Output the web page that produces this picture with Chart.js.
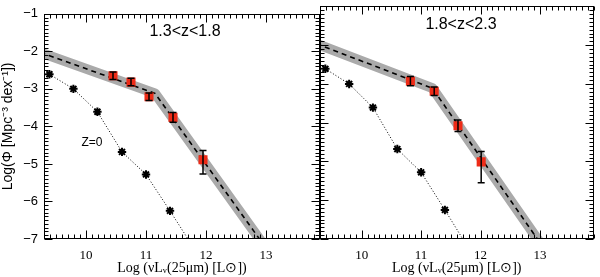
<!DOCTYPE html>
<html><head><meta charset="utf-8">
<script src="https://cdn.jsdelivr.net/npm/chart.js@4/dist/chart.umd.min.js"></script>
<style>
html,body{margin:0;padding:0;background:#fff;}
#wrap{position:relative;width:600px;height:277px;overflow:hidden;background:#fff;}
#c1{position:absolute;left:0;top:0;}
#c2{position:absolute;left:300px;top:0;}
</style></head><body>
<div id="wrap"><canvas id="c1" width="330" height="277"></canvas><canvas id="c2" width="300" height="277"></canvas></div>
<script>
// ---- data ----
const xTicks = [10, 11, 12, 13];
const yTicks = [-7, -6, -5, -4, -3, -2, -1];
const panelLabels = ['1.3<z<1.8', '1.8<z<2.3'];
const localLabel = 'Z=0';

// local (z=0) luminosity function, same in both panels
const localX = [9.39, 9.79, 10.19, 10.6, 11.0, 11.4];
const localY = [-2.61, -3.0, -3.61, -4.68, -5.28, -6.25];
const localLineX = [9.39, 9.79, 10.19, 10.6, 11.0, 11.4, 11.7];
const localLineY = [-2.61, -3.0, -3.61, -4.68, -5.28, -6.25, -7.0];

// panel 1: 1.3<z<1.8
const lf1X = [10.45, 10.75, 11.05, 11.45, 11.95];
const lf1Y = [-2.65, -2.82, -3.21, -3.76, -4.89];
const lf1ErrHi = [0.1, 0.1, 0.1, 0.13, 0.25];
const lf1ErrLo = [0.1, 0.1, 0.1, 0.13, 0.38];
const fit1X = [9.1, 11.15, 13.03];
const fit1Y = [-1.95, -3.12, -7.31];

// panel 2: 1.8<z<2.3
const lf2X = [10.82, 11.22, 11.62, 12.01];
const lf2Y = [-2.93, -3.19, -4.08, -5.01];
const lf2ErrHi = [0.12, 0.11, 0.15, 0.27];
const lf2ErrLo = [0.12, 0.11, 0.15, 0.54];
const fit2X = [9.1, 11.19, 13.1];
const fit2Y = [-1.88, -3.11, -7.32];

const SANS = "'Liberation Sans', Arial, Helvetica, sans-serif";
const SERIF = "'Liberation Serif', 'Times New Roman', serif";
const pts = (xs, ys) => xs.map((x, i) => ({x: x, y: ys[i]}));

// ---- plugins ----
const framePlugin = {
  id: 'frame',
  afterDraw(chart) {
    const ctx = chart.ctx, a = chart.chartArea, x = chart.scales.x, y = chart.scales.y;
    ctx.save();
    ctx.strokeStyle = '#000';
    ctx.lineWidth = 1;
    const L = Math.round(a.left) + 0.5, R = Math.round(a.right) - 0.5;
    const T = Math.round(a.top) + 0.5, B = Math.round(a.bottom) - 0.5;
    ctx.strokeRect(L, T, R - L, B - T);
    ctx.beginPath();
    for (let k = Math.ceil(x.min * 10 - 1e-6); k <= Math.floor(x.max * 10 + 1e-6); k++) {
      const px = Math.round(x.getPixelForValue(k / 10)) + 0.5;
      const len = (k % 10 === 0) ? 8 : 4;
      ctx.moveTo(px, B); ctx.lineTo(px, B - len);
      ctx.moveTo(px, T); ctx.lineTo(px, T + len);
    }
    for (let k = Math.ceil(y.min * 10 - 1e-6); k <= Math.floor(y.max * 10 + 1e-6); k++) {
      const py = Math.round(y.getPixelForValue(k / 10)) + 0.5;
      const len = (k % 10 === 0) ? 8 : 4;
      ctx.moveTo(L, py); ctx.lineTo(L + len, py);
      ctx.moveTo(R, py); ctx.lineTo(R - len, py);
    }
    ctx.stroke();
    ctx.restore();
  }
};

const errPlugin = {
  id: 'errbars',
  afterDatasetsDraw(chart, args, opts) {
    const ctx = chart.ctx, x = chart.scales.x, y = chart.scales.y;
    const ds = chart.data.datasets[opts.datasetIndex];
    ctx.save();
    ctx.strokeStyle = '#000';
    ctx.lineWidth = 1.5;
    ctx.beginPath();
    ds.data.forEach((p, i) => {
      const px = x.getPixelForValue(p.x);
      const yt = y.getPixelForValue(p.y + opts.hi[i]);
      const yb = y.getPixelForValue(p.y - opts.lo[i]);
      ctx.moveTo(px, yt); ctx.lineTo(px, yb);
      ctx.moveTo(px - 3.5, yt); ctx.lineTo(px + 3.5, yt);
      ctx.moveTo(px - 3.5, yb); ctx.lineTo(px + 3.5, yb);
    });
    ctx.stroke();
    ctx.restore();
  }
};

const textPlugin = {
  id: 'labels',
  afterDraw(chart, args, opts) {
    const ctx = chart.ctx, x = chart.scales.x, y = chart.scales.y;
    ctx.save();
    ctx.fillStyle = '#000';
    ctx.textAlign = 'center';
    ctx.textBaseline = 'middle';
    opts.items.forEach(it => {
      ctx.font = it.size + 'px ' + SANS;
      ctx.fillText(it.text, x.getPixelForValue(it.x), y.getPixelForValue(it.y));
    });
    ctx.restore();
  }
};

function makePanel(id, cfg) {
  return new Chart(document.getElementById(id), {
    type: 'scatter',
    data: { datasets: [
      { label: 'LF', data: pts(cfg.lfX, cfg.lfY), pointStyle: 'rect', pointRadius: 6.4,
        backgroundColor: '#ee2b17', borderColor: '#ee2b17', borderWidth: 0, showLine: false, order: 0 },
      { label: 'z0', data: pts(localX, localY), pointStyle: 'star', pointRadius: 4.2,
        borderColor: '#000', backgroundColor: '#000', borderWidth: 2, showLine: false, order: 1 },
      { label: 'z0line', data: pts(localLineX, localLineY), showLine: true, pointRadius: 0,
        borderColor: '#000', borderWidth: 1, borderDash: [1, 2], order: 2, clip: 0 },
      { label: 'fit', data: pts(cfg.fitX, cfg.fitY), showLine: true, pointRadius: 0,
        borderColor: '#000', borderWidth: 1.6, borderDash: [5, 4], order: 3, clip: 0 },
      { label: 'band', data: pts(cfg.fitX, cfg.fitY), showLine: true, pointRadius: 0,
        borderColor: '#aaaaaa', borderWidth: 10, borderJoinStyle: 'round', order: 4, clip: 0 }
    ]},
    options: {
      animation: false, responsive: false, events: [],
      layout: { padding: { left: 0, right: cfg.padRight, top: 3, bottom: 0 } },
      plugins: {
        legend: { display: false }, tooltip: { enabled: false },
        errbars: { datasetIndex: 0, hi: cfg.hi, lo: cfg.lo },
        labels: { items: cfg.labels }
      },
      scales: {
        x: {
          type: 'linear', min: 9.3, max: 13.9,
          grid: { display: false, drawTicks: false }, border: { display: false },
          afterBuildTicks: s => { s.ticks = xTicks.map(v => ({value: v})); },
          afterFit: s => { s.height = 38; },
          ticks: { padding: 9, color: '#000', font: { family: SERIF, size: 13 }, maxRotation: 0 },
          title: { display: true, text: 'Log (\u03BDL\u1D65(25\u03BCm) [L\u2299])', color: '#000',
                   font: { family: SERIF, size: 14 }, padding: { top: 0, bottom: 0 } }
        },
        y: {
          type: 'linear', min: -7, max: -1,
          grid: { display: false, drawTicks: false }, border: { display: false },
          afterBuildTicks: s => { s.ticks = yTicks.map(v => ({value: v})); },
          afterFit: s => { s.width = cfg.yWidth; },
          ticks: { display: cfg.showY, padding: 6, color: '#000', font: { family: SANS, size: 13 },
                   callback: v => String(v).replace('-', '\u2212') },
          title: { display: cfg.showY, text: 'Log(\u03A6 [Mpc\u207B\u00B3 dex\u207B\u00B9])', color: '#000',
                   font: { family: SANS, size: 14 }, padding: { top: 0, bottom: 1 } }
        }
      }
    },
    plugins: [framePlugin, errPlugin, textPlugin]
  });
}

makePanel('c1', {
  lfX: lf1X, lfY: lf1Y, hi: lf1ErrHi, lo: lf1ErrLo, fitX: fit1X, fitY: fit1Y,
  padRight: 10, yWidth: 44, showY: true,
  labels: [ { text: panelLabels[0], x: 11.65, y: -1.47, size: 16 },
            { text: localLabel, x: 10.1, y: -4.43, size: 12 } ]
});
makePanel('c2', {
  lfX: lf2X, lfY: lf2Y, hi: lf2ErrHi, lo: lf2ErrLo, fitX: fit2X, fitY: fit2Y,
  padRight: 4, yWidth: 20, showY: false,
  labels: [ { text: panelLabels[1], x: 11.67, y: -1.47, size: 16 } ]
});
</script>
</body></html>
